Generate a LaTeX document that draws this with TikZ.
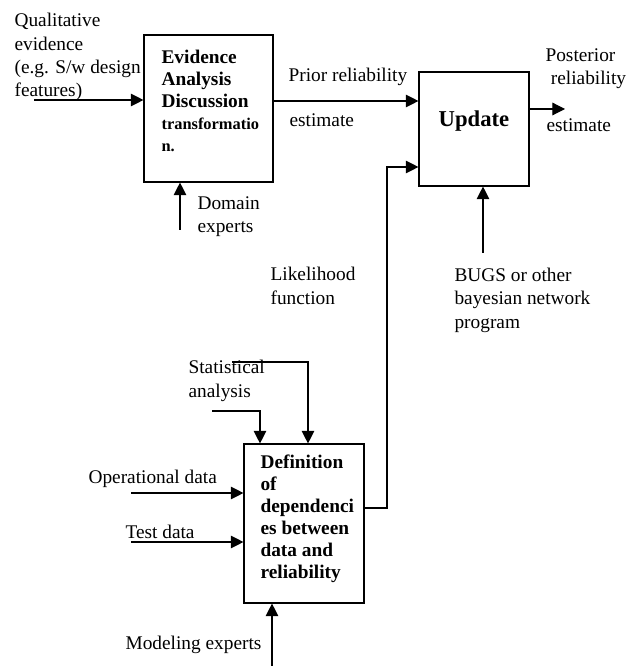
\documentclass[tikz,border=0pt]{standalone}
\usepackage{fontspec}
\setmainfont{Liberation Serif}
\usetikzlibrary{arrows.meta}

\begin{document}
\begin{tikzpicture}[
    x=0.75pt, y=-0.75pt,
    >={Triangle[length=9.5pt,width=9.5pt]},
    line width=0.85pt,
    procbox/.style={draw, rectangle, inner sep=0pt},
    boxtext/.style={anchor=base west, inner sep=0pt, align=left,
        font=\fontsize{14.5}{16.5}\selectfont\bfseries},
    lbl/.style={anchor=base west, inner sep=0pt, align=left,
        font=\fontsize{14.5}{17.5}\selectfont}
    ]
    \useasboundingbox (0,0) rectangle (630,666);

    % process boxes
    \node[procbox, minimum width=96.75pt, minimum height=110.25pt]
        (ev) at (208.5,108.5) {};
    \node[procbox, minimum width=82.5pt, minimum height=85.5pt]
        (upd) at (474,129) {};
    \node[procbox, minimum width=90pt, minimum height=119.25pt]
        (def) at (304,523.5) {};

    % box texts (base = last line)
    \node[boxtext] (evtxt) at (161,152)
        {Evidence\\Analysis\\Discussion\\
         {\fontsize{12.3}{16.5}\selectfont transformatio}\\
         {\fontsize{12.3}{16.5}\selectfont n.}};
    \node[font=\fontsize{17}{20}\selectfont\bfseries] (updtxt) at (474,121)
        {Update};
    \node[boxtext] (deftxt) at (260,578)
        {Definition\\of\\dependenci\\es between\\data and\\reliability};

    % labels
    \node[lbl] (qual) at (14,97)
        {Qualitative\\evidence\\(e.g. S/w design\\features)};
    \node[lbl] (domain) at (197,233) {Domain\\experts};
    \node[lbl] (prior) at (288,82) {Prior reliability};
    \node[lbl] (priorest) at (289,127) {estimate};
    \node[lbl] (post) at (545,85) {Posterior\\\hspace*{4pt}reliability};
    \node[lbl] (postest) at (546,132) {estimate};
    \node[lbl] (likel) at (270,304) {Likelihood\\function};
    \node[lbl] (bugs) at (454,328) {BUGS or other\\bayesian network\\program};
    \node[lbl] (stat) at (188,397) {Statistical\\analysis};
    \node[lbl] (opdata) at (88,483) {Operational data};
    \node[lbl] (tdata) at (125,538) {Test data};
    \node[lbl] (modexp) at (125,649) {Modeling experts};

    % free ends
    \coordinate (qin) at (34,100);
    \coordinate (domin) at (180,230);
    \coordinate (postout) at (565,109);
    \coordinate (bugsin) at (483,253);
    \coordinate (likup) at (387,167);
    \coordinate (statA) at (232,362);
    \coordinate (statB) at (212,411);
    \coordinate (opin) at (131,493);
    \coordinate (tin) at (131,542);
    \coordinate (modin) at (272,666);

    % connectors
    \draw[->] (qin) -- (qin -| ev.west);
    \draw[->] (domin) -- (domin |- ev.south);
    \draw[->] (ev.east |- 0,101) -- (upd.west |- 0,101);
    \draw[->] (postout -| upd.east) -- (postout);
    \draw[->] (bugsin) -- (bugsin |- upd.south);
    \draw[->] (def.east |- 0,508) -| (likup) -- (likup -| upd.west);
    \draw[->] (statA) -| (def.north -| 308,0);
    \draw[->] (statB) -| (def.north -| 260,0);
    \draw[->] (opin) -- (opin -| def.west);
    \draw[->] (tin) -- (tin -| def.west);
    \draw[->] (modin) -- (modin |- def.south);
\end{tikzpicture}
\end{document}
